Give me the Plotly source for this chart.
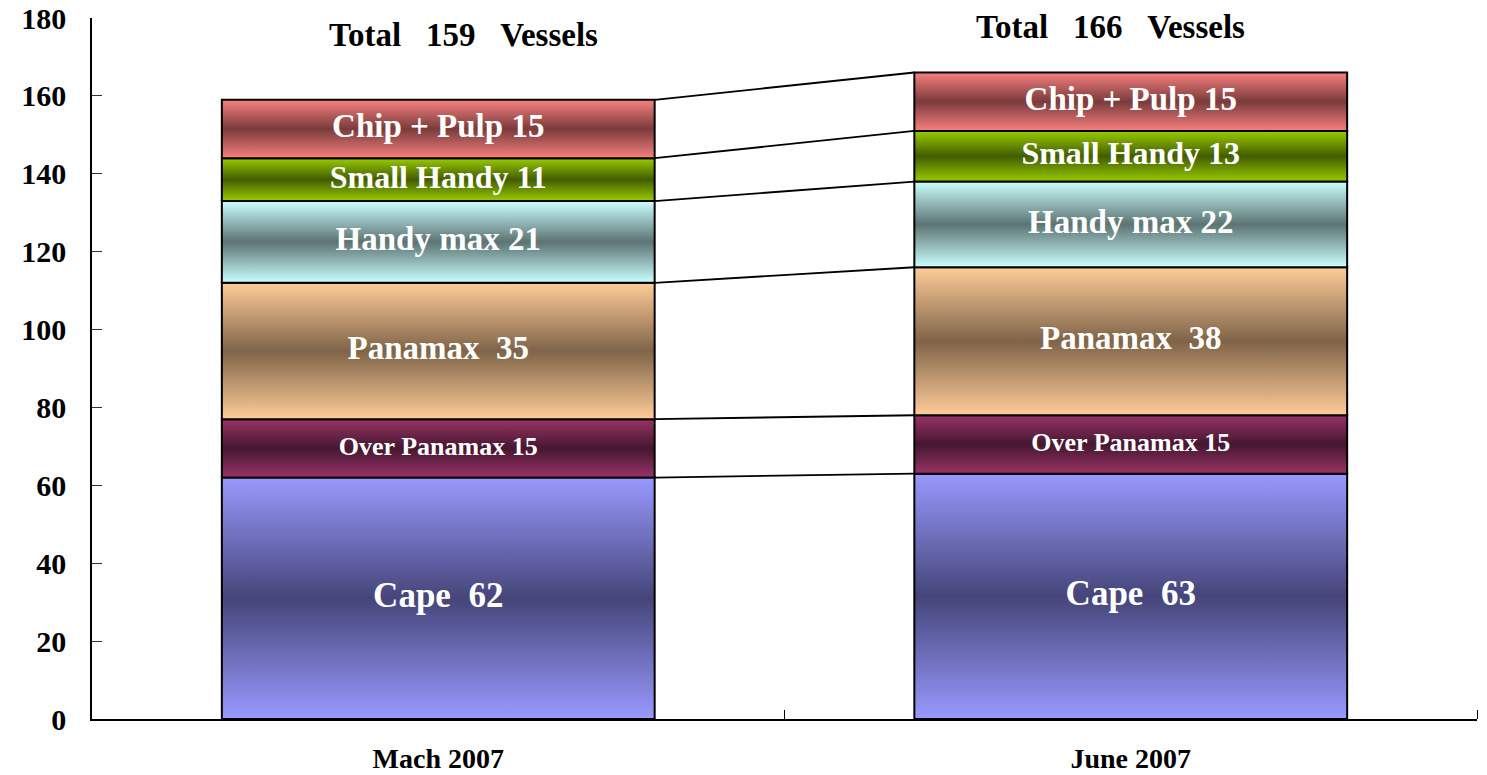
import plotly.graph_objects as go

# ---- data ----
periods = ["Mach 2007", "June 2007"]
segments = ["Cape", "Over Panamax", "Panamax", "Handy max", "Small Handy", "Chip + Pulp"]
march_values = [62, 15, 35, 21, 11, 15]
june_values = [63, 15, 38, 22, 13, 15]
totals = [159, 166]
total_label_y = [175.6, 177.7]
total_label_dx = [0.036, -0.029]
y_ticks = [0, 20, 40, 60, 80, 100, 120, 140, 160, 180]

# ---- styles ----
edge_colors = ["#9999FF", "#993366", "#FFCC99", "#CCFFFF", "#99CC00", "#F88080"]
mid_colors = ["#45457A", "#451730", "#7F6448", "#5C7373", "#425C00", "#7A3B3B"]
label_sizes = [35, 26, 33, 33, 32, 33]
FONT = "Liberation Serif"
BAR_W = 0.625

fig = go.Figure()

series = [march_values, june_values]
tops_by_period = []
for xi, vals in enumerate(series):
    base = 0
    tops = []
    for si, v in enumerate(vals):
        top = base + v
        x0, x1 = xi - BAR_W / 2, xi + BAR_W / 2
        fig.add_trace(go.Scatter(
            x=[x0, x1, x1, x0, x0], y=[base, base, top, top, base],
            mode="lines", fill="toself",
            fillgradient=dict(type="vertical",
                              colorscale=[[0, edge_colors[si]], [0.5, mid_colors[si]], [1, edge_colors[si]]]),
            line=dict(color="black", width=2),
            hoverinfo="skip", showlegend=False,
        ))
        fig.add_trace(go.Scatter(
            x=[xi], y=[base + v / 2], mode="text",
            text=[f"{segments[si]}\u00a0 {v}" if si in (0, 2) else f"{segments[si]} {v}"],
            textfont=dict(family=FONT, size=label_sizes[si], color="white", weight="bold"),
            hoverinfo="skip", showlegend=False,
        ))
        tops.append(top)
        base = top
    tops_by_period.append(tops)

# connector lines between segment tops
for a, b in zip(tops_by_period[0], tops_by_period[1]):
    fig.add_trace(go.Scatter(
        x=[0 + BAR_W / 2, 1 - BAR_W / 2], y=[a, b], mode="lines",
        line=dict(color="black", width=1.8),
        hoverinfo="skip", showlegend=False,
    ))

# totals
for xi, (t, ty, dx) in enumerate(zip(totals, total_label_y, total_label_dx)):
    fig.add_annotation(
        x=xi + dx, y=ty, text=f"Total\u00a0\u00a0\u00a0{t}\u00a0\u00a0\u00a0Vessels", showarrow=False,
        font=dict(family=FONT, size=33, color="black", weight="bold"),
    )

fig.update_layout(
    width=1487, height=775,
    margin=dict(l=92, r=10, t=18, b=56),
    paper_bgcolor="white", plot_bgcolor="white",
    xaxis=dict(
        range=[-0.5, 1.5], tickvals=[0, 1], ticktext=periods,
        ticks="", showgrid=False, zeroline=False,
        showline=True, linecolor="black", linewidth=1.5,
        tickfont=dict(family=FONT, size=28, color="black", weight="bold"),
        ticklabelstandoff=14, automargin=False,
        minor=dict(tickvals=[0.5, 1.5], ticks="inside", ticklen=9, tickcolor="black", tickwidth=1),
        fixedrange=True,
    ),
    yaxis=dict(
        range=[0, 180], tickvals=y_ticks, ticks="inside", ticklen=10,
        tickcolor="#333333", tickwidth=1.2,
        showgrid=False, zeroline=False,
        showline=True, linecolor="black", linewidth=1.5,
        tickfont=dict(family=FONT, size=30, color="black", weight="bold"),
        ticklabelstandoff=18, automargin=False,
        fixedrange=True,
    ),
)

fig.write_html(
    "out.html",
    config={"displayModeBar": False},
    post_script="document.body.style.margin='0';document.body.style.overflow='hidden';",
)
